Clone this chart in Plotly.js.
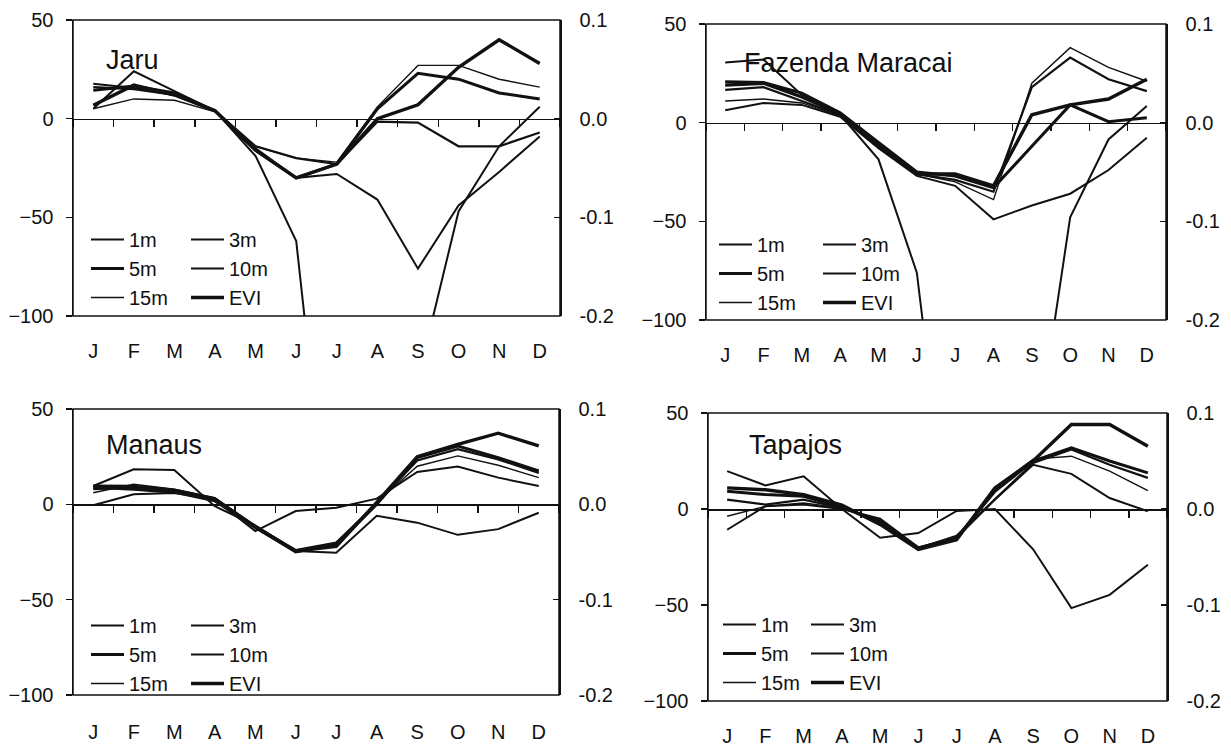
<!DOCTYPE html>
<html>
<head>
<meta charset="utf-8">
<script src="https://cdn.plot.ly/plotly-3.0.1.min.js"></script>
<style>html,body{margin:0;padding:0;background:#fff;}#chart{width:1231px;height:750px;}</style>
</head>
<body>
<div id="chart"></div>
<script>
// ---- Data ----
const months = ['Jan','Feb','Mar','Apr','May','Jun','Jul','Aug','Sep','Oct','Nov','Dec'];
const monthLabels = ['J','F','M','A','M','J','J','A','S','O','N','D'];
const seriesNames = ['1m','3m','5m','10m','15m','EVI'];
const siteNames = ['Jaru','Fazenda Maracai','Manaus','Tapajos'];

// Jaru (soil moisture anomaly, left axis; EVI anomaly, right axis)
const jaru1m  = [5, 24, 14, 4, -19, -62, -250, -220, -132, -47, -14, 6];
const jaru3m  = [17.7, 15.5, 12, 4, -15, -30, -28, -41, -76, -44, -27, -9];
const jaru5m  = [14.4, 16.5, 13, 4, -16, -30, -23, 5, 23, 20, 13, 10];
const jaru10m = [16, 15, 12, 4, -14, -20, -23, -1.5, -2, -14, -14, -7];
const jaru15m = [5, 10, 9.3, 3.5, -14, -20, -22, 6, 27, 27, 20, 16];
const jaruEVI = [0.0136, 0.034, 0.024, 0.008, -0.032, -0.06, -0.046, 0, 0.014, 0.052, 0.08, 0.056];

// Fazenda Maracai
const faz1m  = [30.5, 32, 14, 4, -18.6, -76, -236, -300, -178, -48, -8.5, 8.5];
const faz3m  = [6.3, 10, 9, 3, -13, -27, -32, -49, -42, -36, -24, -7.6];
const faz5m  = [20.7, 20.3, 15, 5, -10, -25, -27, -33, -12, 9, 0.5, 2.5];
const faz10m = [16.6, 18, 11, 4, -12, -26, -29, -35, 18, 33, 22, 16];
const faz15m = [11, 12, 10, 3.5, -12, -26, -30, -39, 20, 38, 28, 21];
const fazEVI = [0.038, 0.04, 0.026, 0.009, -0.022, -0.052, -0.052, -0.064, 0.008, 0.018, 0.024, 0.044];

// Manaus
const man1m  = [9.6, 18.4, 18, -1, -11, -24.5, -25.4, -6, -9.6, -16, -13, -4.4];
const man3m  = [-0.5, 5.3, 6, 2.6, -14, -3.5, -1.75, 3, 17, 19.8, 14, 9.6];
const man5m  = [9.6, 9.5, 7.5, 3, -12, -25, -21, 0, 24.5, 30.6, 24.5, 17.5];
const man10m = [8, 8.8, 6.5, 3, -11.5, -24, -20, 0.5, 23, 28.9, 23.6, 16.5];
const man15m = [6.1, 10.5, 7.9, 3.5, -11, -24, -21, 1, 20, 25.4, 20.5, 14];
const manEVI = [0.018, 0.016, 0.013, 0.004, -0.024, -0.049, -0.044, 0.002, 0.05, 0.063, 0.0746, 0.0612];

// Tapajos
const tap1m  = [19.7, 12.3, 17, 0, -15, -12.5, -1, 0, -21, -51.6, -44.7, -29];
const tap3m  = [-10.8, 1.4, 2.3, 0, -5, -20, -15, 4.9, 23, 18.3, 5.7, -1.2];
const tap5m  = [9.2, 7.5, 6.6, 1, -7, -20.3, -15, 9.2, 25, 31.8, 25, 18.8];
const tap10m = [4.9, 2.3, 4.9, 0.5, -6, -20.5, -14, 4.9, 24, 31, 23, 16.2];
const tap15m = [-3.8, 1.4, 3.1, 0.5, -6, -21, -16, 11, 26, 27.5, 19.7, 9.6];
const tapEVI = [0.022, 0.02, 0.015, 0.004, -0.016, -0.042, -0.032, 0.022, 0.05, 0.088, 0.088, 0.0654];

const siteSeries = [
  [jaru1m, jaru3m, jaru5m, jaru10m, jaru15m, jaruEVI],
  [faz1m, faz3m, faz5m, faz10m, faz15m, fazEVI],
  [man1m, man3m, man5m, man10m, man15m, manEVI],
  [tap1m, tap3m, tap5m, tap10m, tap15m, tapEVI]
];

// ---- Styling / layout ----
const W = 1231, H = 750;
const FONT = 'Liberation Sans, Arial, Helvetica, sans-serif';
const lineWidths = [2.0, 2.0, 3.0, 2.2, 1.4, 3.4];
const ink = '#111';

// pixel boxes of the four plot areas [left, right, top, bottom]
const boxes = [
  [73, 560, 20, 316],
  [706, 1166, 24, 320],
  [73, 559, 409, 695],
  [708, 1167, 413, 701]
];
const labelY = [353, 357, 733, 737];      // month label centres
const titlePos = [[104, 60], [742, 63], [104, 445], [747, 445]];
const legendTop = [220, 225, 606, 605];
const legendGap = [3, 3, 1, 0];
const legendCol1 = [86, 714, 86, 718];
const legendCol2 = [186, 818, 186, 806];

const data = [];
const layout = {
  width: W, height: H,
  margin: {l: 0, r: 0, t: 0, b: 0},
  paper_bgcolor: '#fff', plot_bgcolor: '#fff',
  font: {family: FONT, size: 20, color: ink},
  shapes: [], annotations: [],
  showlegend: true
};

boxes.forEach((b, i) => {
  const n = i + 1;
  const xName = n === 1 ? 'x' : 'x' + n;
  const yL = (2 * n - 1) === 1 ? 'y' : 'y' + (2 * n - 1);
  const yR = 'y' + (2 * n);
  const xKey = n === 1 ? 'xaxis' : 'xaxis' + n;
  const yLKey = yL === 'y' ? 'yaxis' : 'yaxis' + (2 * n - 1);
  const yRKey = 'yaxis' + (2 * n);
  const xd = [b[0] / W, b[1] / W];
  const yd = [1 - b[3] / H, 1 - b[2] / H];
  const zeroPos = yd[0] + (2 / 3) * (yd[1] - yd[0]);
  const zeroPx = b[2] + (b[3] - b[2]) / 3;

  layout[xKey] = {
    type: 'category', categoryorder: 'array', categoryarray: months,
    tickmode: 'array', tickvals: months, ticktext: monthLabels,
    range: [-0.5, 11.5], domain: xd, anchor: 'free', position: zeroPos,
    showline: true, linecolor: ink, linewidth: 1.5,
    ticks: 'outside', tickson: 'boundaries', ticklen: 7, tickwidth: 1.5, tickcolor: ink,
    showgrid: false, zeroline: false, fixedrange: true,
    tickfont: {family: FONT, size: 20, color: ink},
    ticklabelstandoff: Math.round(labelY[i] - zeroPx - 20)
  };
  layout[yLKey] = {
    domain: yd, anchor: xName, range: [-100, 50],
    tickmode: 'array', tickvals: [-100, -50, 0, 50],
    ticks: 'outside', ticklen: 6, tickwidth: 1.5, tickcolor: ink,
    showline: true, linecolor: ink, linewidth: 1.5,
    showgrid: false, zeroline: false, fixedrange: true,
    tickfont: {family: FONT, size: 20, color: ink}, ticklabelstandoff: 8
  };
  layout[yRKey] = {
    overlaying: yL, side: 'right', anchor: xName, range: [-0.2, 0.1],
    tickmode: 'array', tickvals: [-0.2, -0.1, 0, 0.1], ticktext: ['-0.2', '-0.1', '0.0', '0.1'],
    ticks: 'inside', ticklen: 6, tickwidth: 1.5, tickcolor: ink,
    showline: true, linecolor: ink, linewidth: 1.5,
    showgrid: false, zeroline: false, fixedrange: true,
    tickfont: {family: FONT, size: 20, color: ink}, ticklabelstandoff: 14
  };
  layout.shapes.push({
    type: 'rect', xref: xName + ' domain', yref: yL + ' domain',
    x0: 0, x1: 1, y0: 0, y1: 1, line: {color: ink, width: 1.5}, fillcolor: 'rgba(0,0,0,0)'
  });
  layout.annotations.push({
    xref: 'paper', yref: 'paper', x: titlePos[i][0] / W, y: 1 - titlePos[i][1] / H,
    xanchor: 'left', yanchor: 'middle', showarrow: false,
    text: siteNames[i], font: {family: FONT, size: 27, color: ink}
  });

  const lg1 = i === 0 ? 'legend' : 'legend' + (2 * i + 1);
  const lg2 = 'legend' + (2 * i + 2);
  const legBase = {
    bgcolor: 'rgba(0,0,0,0)', borderwidth: 0, orientation: 'v',
    xanchor: 'left', yanchor: 'top', traceorder: 'normal',
    tracegroupgap: legendGap[i], itemwidth: 33, itemclick: false, itemdoubleclick: false,
    font: {family: FONT, size: 20, color: ink}
  };
  layout[lg1] = Object.assign({}, legBase, {x: legendCol1[i] / W, y: 1 - legendTop[i] / H});
  layout[lg2] = Object.assign({}, legBase, {x: legendCol2[i] / W, y: 1 - legendTop[i] / H});

  siteSeries[i].forEach((vals, k) => {
    const isEVI = k === 5;
    const col = (k % 2 === 0) ? lg1 : lg2;
    data.push({
      type: 'scatter', mode: 'lines', name: seriesNames[k],
      x: months, y: vals, xaxis: xName, yaxis: isEVI ? yR : yL,
      line: {color: ink, width: lineWidths[k]},
      legend: col, legendgroup: 'g' + i + '_' + k,
      hoverinfo: 'skip'
    });
  });
});

Plotly.newPlot('chart', data, layout, {staticPlot: true, displayModeBar: false});
</script>
</body>
</html>
